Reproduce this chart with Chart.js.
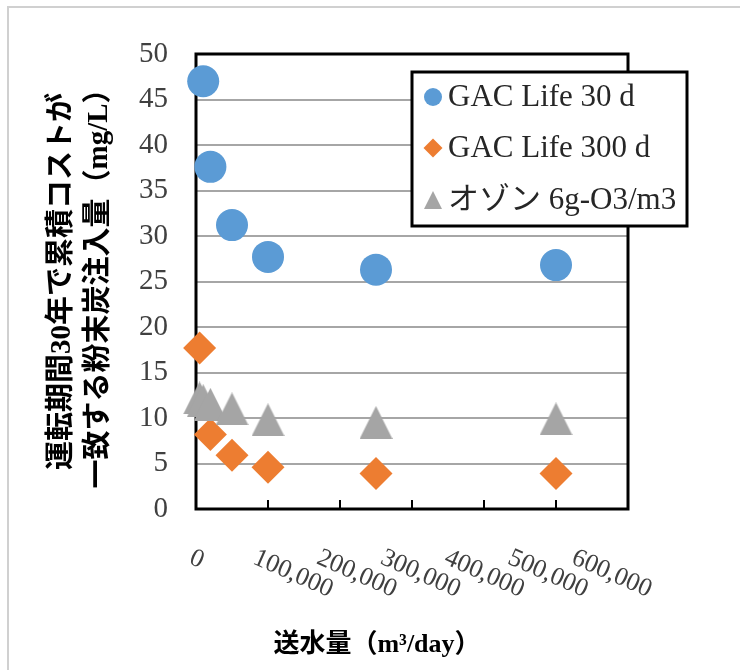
<!DOCTYPE html>
<html>
<head>
<meta charset="utf-8">
<script src="https://cdn.jsdelivr.net/npm/chart.js@4.4.1/dist/chart.umd.min.js"></script>
<style>
  html, body { margin: 0; padding: 0; background: #fff; }
  #wrap { position: relative; width: 740px; height: 670px; overflow: hidden; }
  #frame { position: absolute; left: 7px; top: 6px; width: 800px; height: 800px;
           border-left: 2px solid #d0d0d0; border-top: 2px solid #d0d0d0; }
  canvas { position: absolute; left: 0; top: 0; }
</style>
</head>
<body>
<div id="wrap">
  <div id="frame"></div>
  <canvas id="myChart" width="740" height="670"></canvas>
</div>
<script>
// values
const seriesNames = ['GAC Life 30 d', 'GAC Life 300 d', 'オゾン 6g-O3/m3'];

const flow30 = [10000, 20000, 50000, 100000, 250000, 500000];
const gac30 = [47.0, 37.6, 31.2, 27.7, 26.3, 26.8];

const flow300 = [5000, 20000, 50000, 100000, 250000, 500000];
const gac300 = [17.7, 8.2, 5.9, 4.6, 3.9, 3.9];

const flowOzone = [5000, 10000, 20000, 50000, 100000, 250000, 500000];
const ozone = [12.2, 11.9, 11.5, 11.0, 9.8, 9.5, 9.9];

const xTicks = [0, 100000, 200000, 300000, 400000, 500000, 600000];
const yTicks = [0, 5, 10, 15, 20, 25, 30, 35, 40, 45, 50];

const yTitle = ['運転期間30年で累積コストが', '一致する粉末炭注入量（mg/L）'];
const xTitle = '送水量（m³/day）';

const blue = '#5b9bd5';
const orange = '#ed7d31';
const gray = '#a5a5a5';
const serif = '"Liberation Serif", "Noto Sans CJK JP", serif';

function toPoints(xs, ys) {
    return xs.map((x, i) => ({ x: x, y: ys[i] }));
}

// Excel-like triangle: centred on its bounding box
function triangleMarker(size, color) {
    const c = document.createElement('canvas');
    c.width = size;
    c.height = size;
    const g = c.getContext('2d');
    g.fillStyle = color;
    g.beginPath();
    g.moveTo(size / 2, 0);
    g.lineTo(size, size);
    g.lineTo(0, size);
    g.closePath();
    g.fill();
    return c;
}

const bigTriangle = triangleMarker(33, gray);
const smallTriangle = triangleMarker(18, gray);

const excelLook = {
    id: 'excelLook',
    beforeDatasetsDraw(chart) {
        const c = chart.ctx;
        const a = chart.chartArea;
        const xs = chart.scales.x;
        c.save();
        c.strokeStyle = '#000';
        c.lineWidth = 2;
        xs.ticks.forEach(t => {
            const px = xs.getPixelForValue(t.value);
            c.beginPath();
            c.moveTo(px, a.bottom);
            c.lineTo(px, a.bottom - 9);
            c.stroke();
        });
        c.lineWidth = 3;
        c.strokeRect(a.left, a.top, a.right - a.left, a.bottom - a.top);
        c.restore();
    },
    afterDraw(chart) {
        const c = chart.ctx;
        const a = chart.chartArea;
        const xs = chart.scales.x;

        // rotated x tick labels
        c.save();
        c.font = '26px ' + serif;
        c.fillStyle = '#404040';
        c.textAlign = 'left';
        c.textBaseline = 'alphabetic';
        xs.ticks.forEach(t => {
            const px = xs.getPixelForValue(t.value);
            const ax = a.left - 8 + (px - a.left) * 0.885;
            c.save();
            c.translate(ax, a.bottom + 54);
            c.rotate(24 * Math.PI / 180);
            c.fillText(t.value.toLocaleString('en-US'), 0, 0);
            c.restore();
        });
        c.restore();

        // x axis title
        c.save();
        c.font = 'bold 26px ' + serif;
        c.fillStyle = '#000';
        c.textAlign = 'center';
        c.textBaseline = 'middle';
        c.fillText(xTitle, 377, a.bottom + 136);
        c.restore();

        // legend box
        const lx = a.right - 216, ly = a.top + 18, lw = 275, lh = 154;
        c.save();
        c.fillStyle = '#fff';
        c.fillRect(lx, ly, lw, lh);
        c.strokeStyle = '#000';
        c.lineWidth = 3;
        c.strokeRect(lx, ly, lw, lh);
        const rows = [ly + 25, ly + 76, ly + 128];
        const mx = lx + 21;
        chart.data.datasets.forEach((ds, i) => {
            const my = rows[i];
            c.fillStyle = ds.backgroundColor;
            if (ds.pointStyle === 'circle') {
                c.beginPath();
                c.arc(mx, my, 9, 0, Math.PI * 2);
                c.fill();
            } else if (ds.pointStyle === 'rectRot') {
                c.beginPath();
                c.moveTo(mx, my - 9.5);
                c.lineTo(mx + 9.5, my);
                c.lineTo(mx, my + 9.5);
                c.lineTo(mx - 9.5, my);
                c.closePath();
                c.fill();
            } else {
                c.drawImage(smallTriangle, mx - 9, my - 9);
            }
            c.font = '31px ' + serif;
            c.fillStyle = '#262626';
            c.textAlign = 'left';
            c.textBaseline = 'middle';
            c.fillText(ds.label, lx + 36, my + 1);
        });
        c.restore();
    }
};

const myChart = new Chart(document.getElementById('myChart').getContext('2d'), {
    type: 'scatter',
    data: {
        datasets: [{
            label: seriesNames[0],
            data: toPoints(flow30, gac30),
            pointStyle: 'circle',
            pointRadius: 16,
            pointHoverRadius: 16,
            backgroundColor: blue,
            borderWidth: 0,
            clip: false,
            order: 3
        }, {
            label: seriesNames[1],
            data: toPoints(flow300, gac300),
            pointStyle: 'rectRot',
            pointRadius: 16.5,
            pointHoverRadius: 16.5,
            backgroundColor: orange,
            borderWidth: 0,
            clip: false,
            order: 2
        }, {
            label: seriesNames[2],
            data: toPoints(flowOzone, ozone),
            pointStyle: bigTriangle,
            pointRadius: 16.5,
            pointHoverRadius: 16.5,
            backgroundColor: gray,
            borderWidth: 0,
            clip: false,
            order: 1
        }]
    },
    options: {
        responsive: false,
        animation: false,
        devicePixelRatio: 1,
        layout: {
            padding: { left: 40, top: 54, right: 112, bottom: 0 }
        },
        plugins: {
            legend: { display: false },
            tooltip: { enabled: false }
        },
        scales: {
            x: {
                type: 'linear',
                min: 0,
                max: 600000,
                afterBuildTicks: s => { s.ticks = xTicks.map(v => ({ value: v })); },
                afterFit: s => { s.height = 161; },
                ticks: { display: false },
                grid: { display: false },
                border: { display: false }
            },
            y: {
                type: 'linear',
                min: 0,
                max: 50,
                afterBuildTicks: s => { s.ticks = yTicks.map(v => ({ value: v })); },
                afterFit: s => { s.width = 156; },
                ticks: {
                    font: { family: serif, size: 29 },
                    color: '#404040',
                    padding: 28
                },
                grid: {
                    color: '#a6a6a6',
                    lineWidth: 2,
                    drawTicks: false
                },
                border: { display: false },
                title: {
                    display: true,
                    text: yTitle,
                    color: '#000',
                    font: { family: serif, size: 29, weight: 'bold', lineHeight: 1.28 },
                    padding: { top: 3.5, bottom: 0 }
                }
            }
        }
    },
    plugins: [excelLook]
});
</script>
</body>
</html>
